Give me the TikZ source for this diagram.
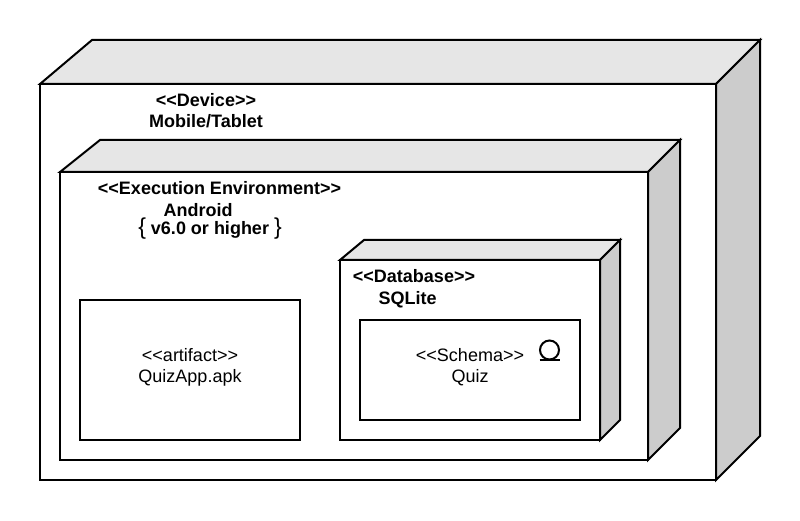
\documentclass[tikz,border=0pt]{standalone}
\usepackage{fontspec}
\setmainfont{Liberation Sans}
\usetikzlibrary{positioning}
\definecolor{topgray}{HTML}{E6E6E6}
\definecolor{sidegray}{HTML}{CCCCCC}
\newcommand{\stereo}[1]{<{}<#1>{}>}
\begin{document}
\begin{tikzpicture}[x=1pt,y=1pt,line width=2pt,
    front/.style={rectangle, draw, fill=white, outer sep=0pt, inner sep=0pt},
    topface/.style={draw, fill=topgray},
    sideface/.style={draw, fill=sidegray},
    boldlbl/.style={font=\fontsize{18}{21}\selectfont\bfseries, inner sep=0pt},
    lbl/.style={font=\fontsize{18}{21}\selectfont, align=center, inner sep=0pt}]
    \useasboundingbox (0,0) rectangle (800,520);
    % device
    \node[front, minimum width=676pt, minimum height=396pt] (device) at (378,238) {};
    \draw[topface] (device.north west) -- ++(52,44) -- ++(668,0) -- (device.north east) -- cycle;
    \draw[sideface] (device.north east) -- ++(44,44) -- ++(0,-396) -- (device.south east) -- cycle;
    \node[boldlbl] (devicetype) at (206,419.5) {\stereo{Device}};
    \node[boldlbl] (devicename) at (206,398.5) {Mobile/Tablet};
    % execution environment
    \node[front, minimum width=588pt, minimum height=288pt] (android) at (354,204) {};
    \draw[topface] (android.north west) -- ++(40,32) -- ++(580,0) -- (android.north east) -- cycle;
    \draw[sideface] (android.north east) -- ++(32,32) -- ++(0,-288) -- (android.south east) -- cycle;
    \node[boldlbl] (androidtype) at (219.5,331.5) {\stereo{Execution Environment}};
    \node[boldlbl] (androidname) at (198,310) {Android};
    \node[boldlbl] (androidver) at (210,291) {{\normalfont\fontsize{23}{23}\selectfont\{} v6.0 or higher {\normalfont\fontsize{23}{23}\selectfont\}}};
    % artifact
    \node[front, minimum width=220pt, minimum height=140pt] (artifact) at (190,150) {};
    \node[lbl] (artifactlbl) at (190,152.5) {\stereo{artifact}\\QuizApp.apk};
    % database
    \node[front, minimum width=260pt, minimum height=180pt] (database) at (470,170) {};
    \draw[topface] (database.north west) -- ++(24,20) -- ++(256,0) -- (database.north east) -- cycle;
    \draw[sideface] (database.north east) -- ++(20,20) -- ++(0,-180) -- (database.south east) -- cycle;
    \node[boldlbl] (databasetype) at (414,243.5) {\stereo{Database}};
    \node[boldlbl] (databasename) at (407.5,220.5) {SQLite};
    % schema
    \node[front, minimum width=220pt, minimum height=100pt] (schema) at (470,150) {};
    \node[lbl] (schemalbl) at (470,152.5) {\stereo{Schema}\\Quiz};
    \node[circle, draw, minimum size=19pt, inner sep=0pt, outer sep=0pt] (schemaicon) at (549.5,170) {};
    \draw (schemaicon.south) ++(-10,0) -- ++(20,0);
\end{tikzpicture}
\end{document}
